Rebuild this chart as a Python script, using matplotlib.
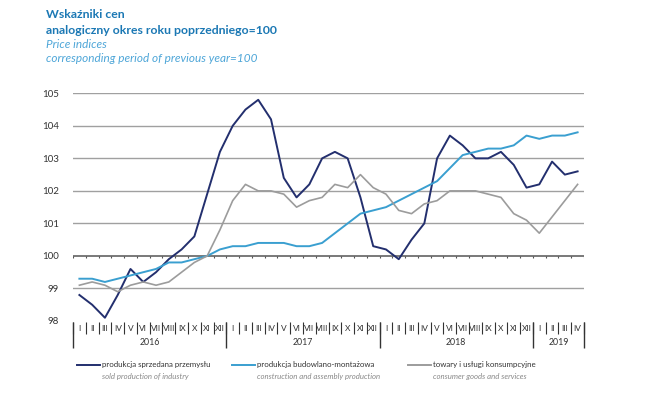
import numpy as np
import matplotlib
matplotlib.use('Agg')
from matplotlib import pyplot as plt
from matplotlib.lines import Line2D
from matplotlib.transforms import blended_transform_factory

# dane: styczeń 2016 - kwiecień 2019
months = ['I', 'II', 'III', 'IV', 'V', 'VI', 'VII', 'VIII', 'IX', 'X', 'XI', 'XII']
years = ['2016', '2017', '2018', '2019']
months_per_year = [12, 12, 12, 4]

industry = [98.8, 98.5, 98.1, 98.8, 99.6, 99.2, 99.5, 99.9, 100.2, 100.6,
            101.9, 103.2, 104.0, 104.5, 104.8, 104.2, 102.4, 101.8, 102.2, 103.0,
            103.2, 103.0, 101.8, 100.3, 100.2, 99.9, 100.5, 101.0, 103.0, 103.7,
            103.4, 103.0, 103.0, 103.2, 102.8, 102.1, 102.2, 102.9, 102.5, 102.6]
construction = [99.3, 99.3, 99.2, 99.3, 99.4, 99.5, 99.6, 99.8, 99.8, 99.9,
                100.0, 100.2, 100.3, 100.3, 100.4, 100.4, 100.4, 100.3, 100.3, 100.4,
                100.7, 101.0, 101.3, 101.4, 101.5, 101.7, 101.9, 102.1, 102.3, 102.7,
                103.1, 103.2, 103.3, 103.3, 103.4, 103.7, 103.6, 103.7, 103.7, 103.8]
consumer = [99.1, 99.2, 99.1, 98.9, 99.1, 99.2, 99.1, 99.2, 99.5, 99.8,
            100.0, 100.8, 101.7, 102.2, 102.0, 102.0, 101.9, 101.5, 101.7, 101.8,
            102.2, 102.1, 102.5, 102.1, 101.9, 101.4, 101.3, 101.6, 101.7, 102.0,
            102.0, 102.0, 101.9, 101.8, 101.3, 101.1, 100.7, 101.2, 101.7, 102.2]

labels_pl = ['produkcja sprzedana przemysłu', 'produkcja budowlano-montażowa',
             'towary i usługi konsumpcyjne']
labels_en = ['sold production of industry', 'construction and assembly production',
             'consumer goods and services']
colors = ['#232f6e', '#3a9fd0', '#9c9c9c']

plt.rcParams['font.family'] = ['Lato', 'DejaVu Sans']

fig = plt.figure(figsize=(6.45, 3.99), dpi=100)
ax = fig.add_axes([73 / 645, 1 - 321 / 399, 511 / 645, 227.7 / 399])

n = len(industry)
x = np.arange(n)
ax.set_xlim(-0.5, n - 0.5)
ax.set_ylim(98, 105)

# linie siatki
for v in [99, 101, 102, 103, 104, 105]:
    ax.axhline(v, color='#a0a0a0', lw=1.0, zorder=1)
ax.axhline(100, color='#555555', lw=1.1, zorder=2)
ax.vlines(np.arange(n + 1) - 0.5, 99.93, 100, color='#555555', lw=0.8, zorder=2)

for series, c in zip([industry, construction, consumer], colors):
    lw = 1.4 if c != colors[2] else 1.2
    ax.plot(x, series, color=c, lw=lw, zorder=3)

ax.set_yticks([98, 99, 100, 101, 102, 103, 104, 105])
ax.tick_params(axis='y', length=0, labelsize=7, labelcolor='#333333', pad=10)
ax.set_xticks([])
for s in ax.spines.values():
    s.set_visible(False)

# oś miesięcy i lat
tr = blended_transform_factory(ax.transData, ax.transAxes)
month_labels = []
for cnt in months_per_year:
    month_labels += months[:cnt]
for i, m in enumerate(month_labels):
    ax.text(i, -0.031, m, transform=tr, ha='center', va='center',
            fontsize=6, color='#333333')
ax.vlines(np.arange(n + 1) - 0.5, -0.057, -0.004, transform=tr,
          color='#333333', lw=0.8, clip_on=False)
start = 0
bounds = [-0.5]
for yr, cnt in zip(years, months_per_year):
    ax.text(start + (cnt - 1) / 2, -0.096, yr, transform=tr, ha='center',
            va='center', fontsize=6.3, color='#333333')
    start += cnt
    bounds.append(start - 0.5)
ax.vlines(bounds, -0.119, -0.004, transform=tr, color='#333333', lw=1.0,
          clip_on=False)

# tytuł
fig.text(46 / 645, 1 - 15 / 399, 'Wskaźniki cen', fontsize=8.8, fontweight='bold',
         color='#1b78b4', va='center')
fig.text(46 / 645, 1 - 30 / 399, 'analogiczny okres roku poprzedniego=100', fontsize=8.8,
         fontweight='bold', color='#1b78b4', va='center')
fig.text(46 / 645, 1 - 44.5 / 399, 'Price indices', fontsize=8.5, style='italic',
         color='#4ea6d8', va='center')
fig.text(46 / 645, 1 - 59 / 399, 'corresponding period of previous year=100', fontsize=8.5,
         style='italic', color='#4ea6d8', va='center')

# legenda
leg_x = [77, 232, 408]
for lx, c, lp, le in zip(leg_x, colors, labels_pl, labels_en):
    fig.add_artist(Line2D([lx / 645, (lx + 23) / 645], [1 - 365 / 399] * 2,
                          color=c, lw=1.4, transform=fig.transFigure))
    fig.text((lx + 25) / 645, 1 - 365 / 399, lp, fontsize=5.7, color='#333333',
             va='center')
    fig.text((lx + 25) / 645, 1 - 377 / 399, le, fontsize=5.6, style='italic',
             color='#888888', va='center')

fig.savefig('out.png', dpi=100, facecolor='white')
